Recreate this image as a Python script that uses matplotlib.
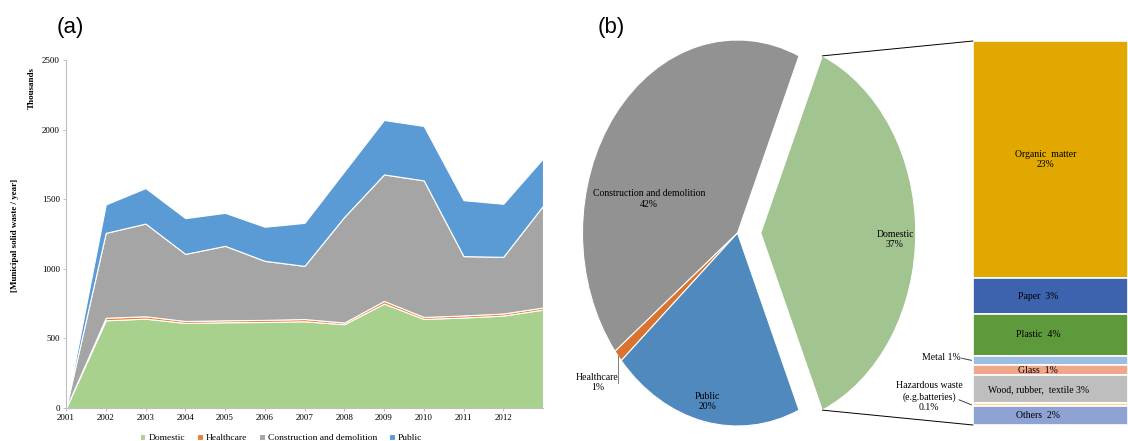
import numpy as np
import matplotlib
matplotlib.use('Agg')
import matplotlib.pyplot as plt
from matplotlib.patches import ConnectionPatch

plt.rcParams['font.family'] = ['Liberation Serif', 'DejaVu Serif']

# (a) municipal solid waste per year, thousands
years = ['2001', '2002', '2003', '2004', '2005', '2006', '2007', '2008', '2009', '2010', '2011', '2012']
domestic = [0, 630, 642, 611, 616, 618, 623, 602, 750, 640, 650, 664, 707]
healthcare = [0, 18, 17, 14, 14, 15, 16, 12, 19, 14, 15, 15, 15]
construction = [0, 610, 666, 482, 535, 424, 382, 759, 909, 981, 426, 407, 731]
public = [0, 204, 255, 257, 237, 245, 309, 327, 391, 391, 402, 381, 340]
area_names = ['Domestic', 'Healthcare', 'Construction and demolition', 'Public']
area_colors = ['#A9D18E', '#ED7D31', '#A5A5A5', '#5B9BD5']

# (b) share by source, domestic broken down
sectors = ['Domestic', 'Construction and demolition', 'Healthcare', 'Public']
sector_share = [37, 42, 1, 20]
pie_colors = ['#A2C490', '#929292', '#DA7230', '#4F89BE']

parts = ['Organic  matter', 'Paper', 'Plastic', 'Metal', 'Glass',
         'Wood, rubber,  textile', 'Hazardous waste\n(e.g.batteries)', 'Others']
part_share = [22.9, 3.5, 4.0, 0.9, 1.0, 2.7, 0.3, 1.8]
part_pct = ['23%', '3%', '4%', '1%', '1%', '3%', '0.1%', '2%']
part_colors = ['#E0A800', '#3D63AE', '#5E993B', '#9EBDE2', '#F1A68A',
               '#BEBEBE', '#FFD48E', '#8FA2D4']

W, H = 1128, 441
def px_rect(x0, y0, x1, y1):
    return [x0 / W, 1 - y1 / H, (x1 - x0) / W, (y1 - y0) / H]

fig = plt.figure(figsize=(W / 100, H / 100), dpi=100)

# ---------------- (a) stacked area
ax = fig.add_axes(px_rect(66, 60, 543, 408))
x = np.arange(len(domestic))
ax.stackplot(x, domestic, healthcare, construction, public, colors=area_colors,
             labels=area_names, edgecolor='white', linewidth=0.8)
ax.set_xlim(0, len(domestic) - 1)
ax.set_ylim(0, 2500)
ax.set_xticks(range(len(years)))
ax.set_xticklabels(years)
ax.set_yticks(range(0, 2501, 500))
for s in ['top', 'right']:
    ax.spines[s].set_visible(False)
for s in ['left', 'bottom']:
    ax.spines[s].set_color('#BFBFBF')
    ax.spines[s].set_linewidth(0.8)
ax.tick_params(labelsize=6.5, color='#BFBFBF', length=2.5, width=0.7, pad=2)
fig.text(15 / W, 1 - 235 / H, '[Municipal solid waste / year]', rotation=90,
         weight='bold', size=6.5, ha='center', va='center')
fig.text(32 / W, 1 - 88 / H, 'Thousands', rotation=90, weight='bold', size=6.5,
         ha='center', va='center')
ax.legend(loc='center', bbox_to_anchor=(281 / W, 1 - 438 / H), bbox_transform=fig.transFigure,
          ncol=4, frameon=False, fontsize=6.8, handlelength=0.6, handleheight=0.6,
          handletextpad=0.3, columnspacing=1.3, borderpad=0)

fig.text(70 / W, 1 - 27 / H, '(a)', family='Liberation Sans', size=16, ha='center', va='center')
fig.text(611 / W, 1 - 27 / H, '(b)', family='Liberation Sans', size=16, ha='center', va='center')

# ---------------- (b) pie
axp = fig.add_axes(px_rect(570, 35, 960, 436))
start = -sector_share[0] / sum(sector_share) * 180
wedges, _ = axp.pie(sector_share, colors=pie_colors, startangle=start,
                    explode=[0.15, 0, 0, 0],
                    wedgeprops=dict(edgecolor='white', linewidth=0.8))
axp.set_aspect('auto')
axp.set_xlim((570 - 737.5) / 155, (960 - 737.5) / 155)
axp.set_ylim((233 - 436) / 193, (233 - 35) / 193)

fs = 7
axp.text(1.016, -0.033, 'Domestic\n37%', ha='center', va='center', size=fs)
axp.text(-0.572, 0.176, 'Construction and demolition\n42%', ha='center', va='center', size=fs)
axp.text(-0.192, -0.872, 'Public\n20%', ha='center', va='center', size=fs)
axp.text(-0.903, -0.775, 'Healthcare\n1%', ha='center', va='center', size=fs)
hc = wedges[2]
tm = np.deg2rad((hc.theta1 + hc.theta2) / 2)
hx, hy = np.cos(tm), np.sin(tm)
axp.plot([hx, hx], [hy, -0.775], color='#7F7F7F', lw=0.7)

# ---------------- (b) bar of domestic
axb = fig.add_axes(px_rect(973, 41, 1128, 425))
axb.axis('off')
total = sum(part_share)
axb.set_xlim(0, 1)
axb.set_ylim(0, total)
tops = total - np.cumsum([0] + part_share[:-1])
mids = []
for share, top, c in zip(part_share, tops, part_colors):
    axb.bar(0.5, share, width=1, bottom=top - share, color=c, edgecolor='white', linewidth=1.2)
    mids.append(top - share / 2)

axb.text(0.47, mids[0], parts[0] + '\n' + part_pct[0], ha='center', va='center', size=fs)
for i in [1, 2, 4, 5, 7]:
    axb.text(0.42, mids[i], parts[i] + '  ' + part_pct[i] if i != 5 else parts[i] + ' ' + part_pct[i],
             ha='center', va='center', size=fs)

u = total / 384  # data units per pixel in bar axes
tr = axb.get_yaxis_transform()
axb.text(-0.077, mids[3] + 3 * u, parts[3] + ' ' + part_pct[3], transform=tr,
         ha='right', va='center', size=fs)
axb.plot([-0.072, -0.01], [mids[3] + 2 * u, mids[3]], transform=tr, clip_on=False,
         color='#404040', lw=0.7)
axb.text(-0.284, mids[6] + 8 * u, parts[6] + '\n' + part_pct[6], transform=tr,
         ha='center', va='center', size=fs, linespacing=1.25)
axb.plot([-0.09, -0.01], [mids[6] + 5 * u, mids[6]], transform=tr, clip_on=False,
         color='#404040', lw=0.7)

# connector lines from the domestic wedge to the bar
dom = wedges[0]
cx, cy = dom.center
for ang, yb in [(dom.theta2, 1), (dom.theta1, 0)]:
    t = np.deg2rad(ang)
    p = (cx + dom.r * np.cos(t), cy + dom.r * np.sin(t))
    con = ConnectionPatch(xyA=p, coordsA=axp.transData, xyB=(0, yb), coordsB=axb.transAxes,
                          color='black', lw=0.7)
    fig.add_artist(con)

fig.savefig('out.png', dpi=100)
